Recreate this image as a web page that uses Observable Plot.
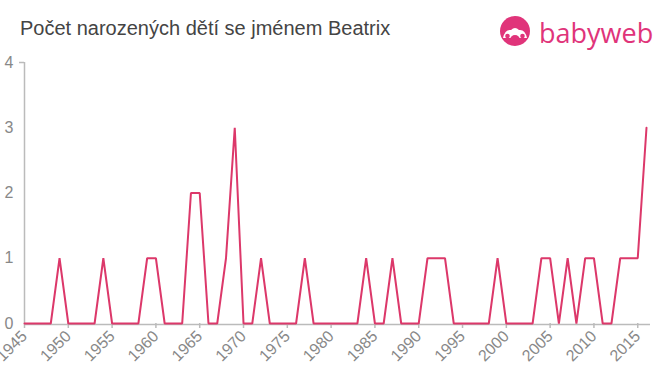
<!DOCTYPE html>
<html>
<head>
<meta charset="utf-8">
<script src="https://cdn.jsdelivr.net/npm/d3@7"></script>
<script src="https://cdn.jsdelivr.net/npm/@observablehq/plot@0.6"></script>
<style>
  html, body { margin: 0; padding: 0; background: #fff; }
  #wrap { position: relative; width: 660px; height: 375px; overflow: hidden; font-family: "Liberation Sans", Arial, sans-serif; }
  #title { position: absolute; left: 20px; top: 17px; font-size: 20px; color: #444; white-space: nowrap; }
  #logo { position: absolute; left: 499px; top: 14px; }
  #chart { position: absolute; left: 0; top: 0; }
</style>
</head>
<body>
<div id="wrap">
  <div id="chart"></div>
  <div id="title">Počet narozených dětí se jménem Beatrix</div>
  <svg id="logo" width="160" height="40" viewBox="0 0 160 40">
    <circle cx="16" cy="17" r="15" fill="#e0347a"/>
    <path d="M4,24 Q6,15 12,16 Q16,12 20,16 Q26,15 28,24 Z" fill="#fff"/>
    <circle cx="16" cy="26" r="5" fill="#e0347a"/>
    <circle cx="8.5" cy="22" r="2.3" fill="#e0347a"/>
    <circle cx="23.5" cy="22" r="2.3" fill="#e0347a"/>
    <text x="40" y="29" font-family="'Open Sans', 'Liberation Sans', sans-serif" font-size="27" fill="#e0347a">babyweb</text>
  </svg>
</div>
<script>
const years = d3.range(1945, 2017);
const counts = [
  0,0,0,0,1,0,0,0,0,1, // 1945-1954
  0,0,0,0,1,1,0,0,0,2, // 1955-1964
  2,0,0,1,3,0,0,1,0,0, // 1965-1974
  0,0,1,0,0,0,0,0,0,1, // 1975-1984
  0,0,1,0,0,0,1,1,1,0, // 1985-1994
  0,0,0,0,1,0,0,0,0,1, // 1995-2004
  1,0,1,0,1,1,0,0,1,1, // 2005-2014
  1,3                  // 2015-2016
];
const xTicks = d3.range(1945, 2016, 5);
const yTicks = [0, 1, 2, 3, 4];

const data = years.map((y, i) => ({year: y, count: counts[i]}));

const W = 660, H = 375;
const mL = 24, mR = 14, mT = 62, mB = 52;

const chart = Plot.plot({
  width: W,
  height: H,
  marginLeft: mL,
  marginRight: mR,
  marginTop: mT,
  marginBottom: mB,
  style: {fontFamily: "'Liberation Sans', Arial, sans-serif", fontSize: "15px", color: "#888", background: "transparent"},
  x: {type: "linear", domain: [1945, 2016]},
  y: {type: "linear", domain: [0, 4]},
  marks: [
    Plot.axisY({ticks: yTicks, tickFormat: d => String(d), tickSize: 0, tickPadding: 11, label: null, fontSize: 16, color: "#888"}),
    Plot.axisY({ticks: [4], tickFormat: () => "", tickSize: 5, tickPadding: 0, label: null, stroke: "#bbb", strokeWidth: 1.5}),
    Plot.axisX({ticks: xTicks, tickFormat: d => String(d), tickRotate: -45, tickSize: 5, tickPadding: 5, label: null, fontSize: 16, color: "#888", stroke: "#bbb", strokeWidth: 1.5}),
    Plot.ruleX([1945], {y1: 0, y2: 4, stroke: "#bbb", strokeWidth: 1.5}),
    Plot.ruleY([0], {stroke: "#bbb", strokeWidth: 1.5, dy: 1, insetRight: -4}),
    Plot.line(data, {x: "year", y: "count", stroke: "#dc386a", strokeWidth: 2, strokeLinejoin: "miter"})
  ]
});
document.getElementById("chart").appendChild(chart);
</script>
</body>
</html>
